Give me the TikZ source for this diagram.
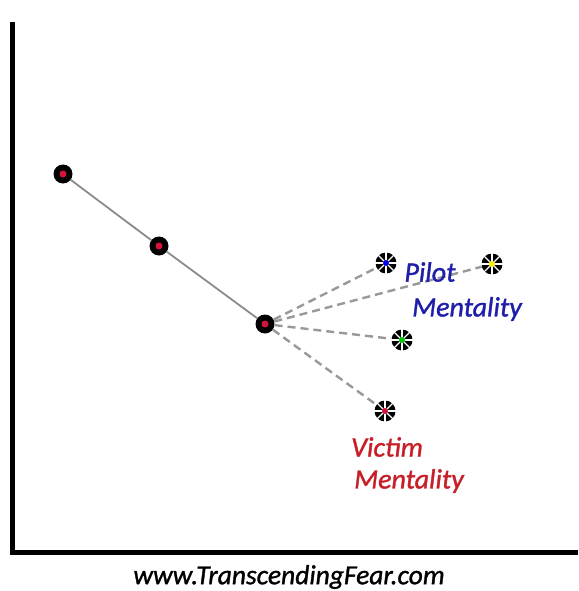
\documentclass[tikz,border=0pt]{standalone}
\usepackage{fontspec}
\setmainfont{Carlito}
\newfontfamily\lblfont[FakeBold=1.2]{Carlito}
\begin{document}
\begin{tikzpicture}[x=1pt,y=-1pt,
  bigdot/.style={circle,fill=black,inner sep=0pt,minimum size=19pt},
  stardot/.style={circle,fill=black,inner sep=0pt,minimum size=21pt},
  solidln/.style={draw=gray!90,line width=1.8pt},
  dashln/.style={draw=gray!80,line width=2.4pt,dash pattern=on 8pt off 5pt},
  lbl/.style={font=\lblfont\itshape\fontsize{28}{30}\selectfont,inner sep=0pt}]
\useasboundingbox (0,0) rectangle (578,591);
\fill[white] (0,0) rectangle (578,591);
\definecolor{pilotblue}{RGB}{30,30,170}
\definecolor{victimred}{RGB}{200,30,40}
\definecolor{dotred}{RGB}{210,20,60}
% axes
\coordinate (ytop) at (12,22);
\coordinate (orig) at (12,552);
\coordinate (xend) at (578,552);
\draw[line width=5pt] (ytop) -- (orig) -- (xend);
% nodes
\node[bigdot] (p1) at (63,174) {};
\node[bigdot] (p2) at (159,246) {};
\node[bigdot] (p3) at (265,324) {};
\node[stardot] (sb) at (386,263) {};
\node[stardot] (sy) at (492,264) {};
\node[stardot] (sg) at (402,340) {};
\node[stardot] (sr) at (385,411) {};
% connectors
\draw[solidln] (p1) -- (p2);
\draw[solidln] (p2) -- (p3);
\draw[dashln] (p3) -- (sb);
\draw[dashln] (p3) -- (sy);
\draw[dashln] (p3) -- (sg);
\draw[dashln] (p3) -- (sr);
% centers
\foreach \n in {p1,p2,p3}{\fill[dotred] (\n.center) circle (3.5pt);}
\foreach \n/\c in {sb/blue,sy/yellow,sg/green!80!black,sr/dotred}{
  \foreach \a in {0,45,...,315}{\draw[white,line width=1.3pt] (\n.center) -- ++(\a:11pt);}
  \fill[\c] (\n.center) circle (3pt);
}
% labels
\node[lbl,text=pilotblue] (pilot) at (430,272) {Pilot};
\node[lbl,text=pilotblue] (pment) at (467,309) {Mentality};
\node[lbl,text=victimred] (victim) at (387,447) {Victim};
\node[lbl,text=victimred] (vment) at (409,481) {Mentality};
\node[font=\lblfont\itshape\fontsize{27.5}{29}\selectfont,inner sep=0pt] (url) at (289,577) {www.TranscendingFear.com};
\end{tikzpicture}
\end{document}
